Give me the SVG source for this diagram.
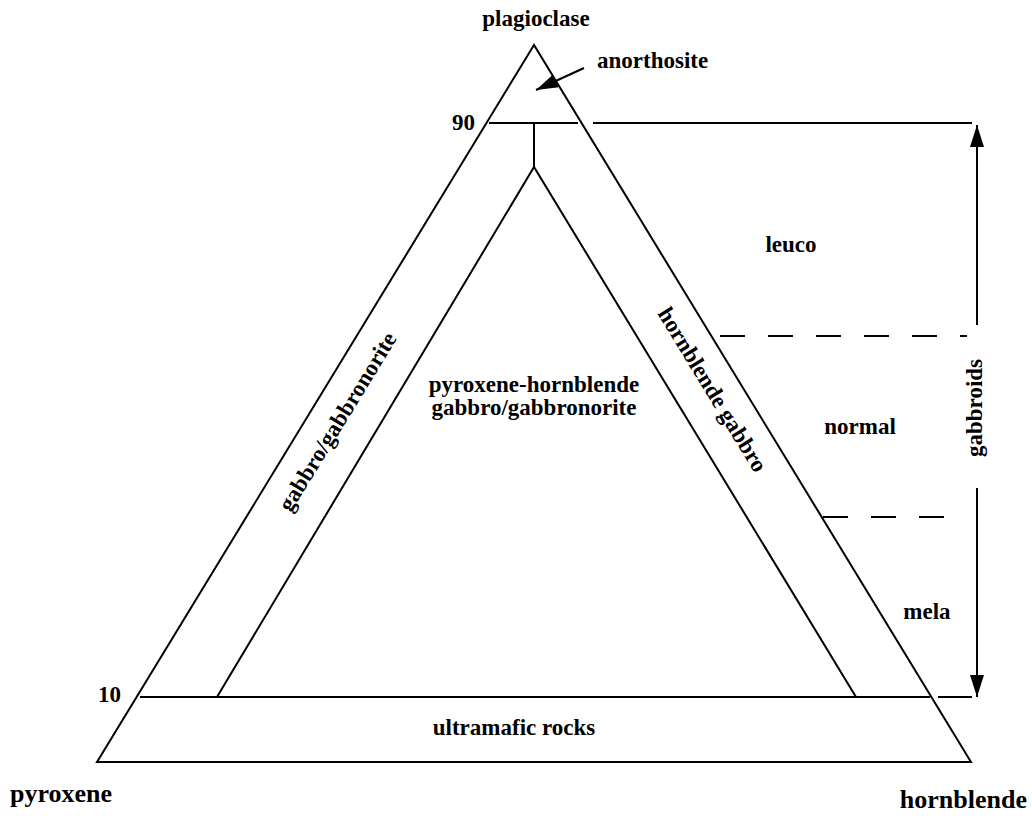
<svg xmlns="http://www.w3.org/2000/svg" width="1032" height="816" viewBox="0 0 1032 816">
<style>
  .ln { stroke:#000; stroke-width:2; fill:none; }
  .dash { stroke:#000; stroke-width:2; fill:none; stroke-dasharray:25 23; }
  text { font-family:"Liberation Serif","Times New Roman",serif; font-weight:bold; fill:#000; font-size:23px; }
  .big { font-size:26px; }
  .mid { text-anchor:middle; }
</style>
<defs>
  <marker id="ah" viewBox="0 0 22 14" refX="22" refY="7" markerWidth="22" markerHeight="14" markerUnits="userSpaceOnUse" orient="auto">
    <path d="M0,0 L22,7 L0,14 Z" fill="#000"/>
  </marker>
</defs>
<rect width="1032" height="816" fill="#fff"/>
<g id="triangle">
  <polygon class="ln" points="534,45 97,762 971,762"/>
  <polyline class="ln" points="217,697 534,167 856,697"/>
  <line class="ln" x1="489" y1="123" x2="578" y2="123"/>
  <line class="ln" x1="534" y1="123" x2="534" y2="167"/>
  <line class="ln" x1="140" y1="697" x2="930" y2="697"/>
</g>
<g id="connectors">
  <line class="ln" x1="593" y1="123" x2="972" y2="123"/>
  <line class="ln" x1="938" y1="697" x2="972" y2="697"/>
  <line class="dash" x1="720" y1="336" x2="967" y2="336"/>
  <line class="dash" x1="823" y1="517" x2="945" y2="517"/>
  <line class="ln" x1="977" y1="325" x2="977" y2="125" marker-end="url(#ah)"/>
  <line class="ln" x1="977" y1="488" x2="977" y2="697" marker-end="url(#ah)"/>
  <line class="ln" x1="584" y1="68" x2="536" y2="90" marker-end="url(#ah)"/>
</g>
<g id="labels">
  <text class="mid" x="536" y="26">plagioclase</text>
  <text x="597" y="68">anorthosite</text>
  <text x="452" y="130">90</text>
  <text x="98" y="702">10</text>
  <text class="big" x="10" y="802">pyroxene</text>
  <text class="big" x="1027" y="808" text-anchor="end">hornblende</text>
  <text class="mid" x="514" y="735">ultramafic rocks</text>
  <text class="mid" x="534" y="392">pyroxene-hornblende</text>
  <text class="mid" x="534" y="415">gabbro/gabbronorite</text>
  <text class="mid" x="791" y="252">leuco</text>
  <text class="mid" x="860" y="434">normal</text>
  <text class="mid" x="927" y="619">mela</text>
  <text class="mid" transform="translate(982,408) rotate(-90)" x="0" y="0">gabbroids</text>
  <text class="mid" transform="translate(338,422) rotate(-58.6)" x="0" y="7">gabbro/gabbronorite</text>
  <text class="mid" transform="translate(712,390) rotate(58.6)" x="0" y="7">hornblende gabbro</text>
</g>
</svg>
